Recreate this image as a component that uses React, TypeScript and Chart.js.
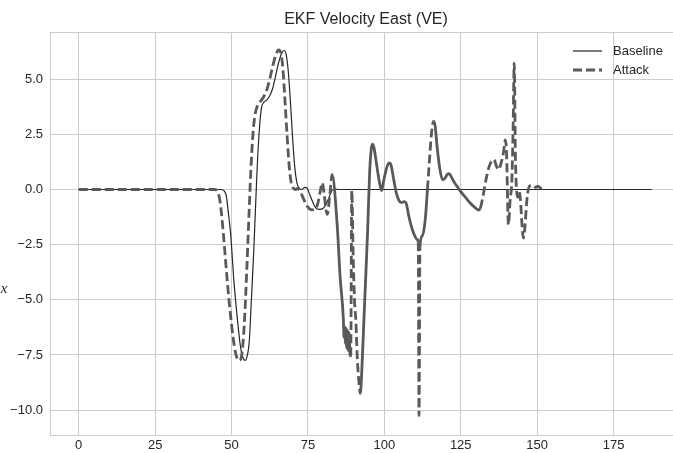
import React, { useEffect, useRef } from "react";
import { Chart, registerables } from "chart.js";

Chart.register(...registerables);

const chartTitle = "EKF Velocity East (VE)";
const yAxisTitle = "x";
const seriesNames = ["Baseline", "Attack"];
const xTickStep = 25;
const yTickStep = 2.5;

const baselineX = [
  0, 10, 20, 30, 40, 46.5, 47.5, 48.3, 49, 49.7, 50.8, 51.8, 52.9, 53.8, 54.5, 55.2, 55.8, 56.5, 57.3, 58,
  58.5, 59.2, 59.8, 60.5, 61.5, 62.5, 63.5, 64.5, 65.5, 66.5, 67.2, 67.9, 68.6, 69.3, 70, 70.7, 71.4, 72.2,
  73, 74, 74.8, 75.5, 76.5, 77.5, 78.5, 79.8, 80.8, 81.8, 82.8, 84, 85, 100, 125, 150, 175, 187.5,
];
const baselineY = [
  0, 0, 0, 0, 0, 0, -0.05, -0.3, -1.1, -2.0, -4.2, -5.7, -7.1, -7.65, -7.75, -7.5, -6.9, -5.0, -2.7, -0.3,
  1.3, 2.9, 3.7, 3.95, 4.05, 4.25, 4.6, 5.2, 5.8, 6.2, 6.3, 6.1, 5.3, 3.9, 2.3, 1.0, 0.3, 0.05,
  0.0, 0.1, 0.05, -0.2, -0.55, -0.82, -0.9, -0.88, -0.7, -0.4, -0.05, 0.02, 0, 0, 0, 0, 0, 0,
];

const attackX = [
  0, 10, 20, 30, 40, 44.5, 45.5, 46.3, 47, 47.8, 48.7, 49.6, 50.5, 51.4, 52.3, 53, 53.6, 54.3, 55, 55.7,
  56.3, 57, 57.7, 58.5, 59.5, 60.5, 61.5, 62.5, 63.5, 64.5, 65.4, 66.1, 66.8, 67.5, 68.2, 68.9, 69.6, 70.3,
  71, 71.5, 72.5, 73.5, 74.5, 75.5, 76.5, 77.5, 78.3, 79, 79.7, 80.3, 81.3, 82.2, 82.9, 84.6, 85.5, 86.6,
  86.8, 87, 87.25, 87.5, 87.75, 88, 88.25, 88.5, 88.75, 89, 89.35, 89.8, 90.3, 90.7, 91.1, 91.6, 92.15,
  92.6, 93.5, 94.5, 95.2, 95.7, 96.1, 96.6, 97.4, 98.3, 99.1, 99.8, 100.6, 101.5, 102.2, 103, 104, 104.8,
  105.6, 106.5, 107.2, 108, 108.9, 109.8, 110.6, 111.1, 111.35, 111.65, 112.4, 113.4, 114.1, 114.8, 115.4,
  116.1, 116.6, 117.3, 118.2, 119, 119.8, 120.6, 121.2, 122, 123, 124, 125, 126.5, 128, 129.5, 130.8, 131.4,
  132.3, 133.2, 134.2, 135.2, 135.9, 136.7, 137.4, 138.2, 139, 139.6, 140, 140.6, 141.2, 141.7, 142.1, 142.5,
  142.9, 143.3, 143.7, 144.1, 144.5, 145, 145.5, 146, 146.7, 147.5, 148.5, 149.5, 150.3, 151.2, 152,
];
const attackY = [
  0, 0, 0, 0, 0, 0, -0.1, -0.6, -1.5, -2.8, -4.3, -5.6, -6.7, -7.45, -7.75, -7.7, -7.2, -5.8, -3.6, -1.2,
  0.8, 2.5, 3.4, 3.8, 4.0, 4.2, 4.5, 5.0, 5.6, 6.1, 6.33, 6.2, 5.5, 4.0, 2.4, 1.0, 0.25, 0.05,
  0.0, 0.05, -0.1, -0.4, -0.7, -0.88, -0.92, -0.9, -0.6, -0.1, 0.3, -0.2, -1.13, -0.2, 0.68, -1.66, -3.9, -5.9,
  -6.7, -6.2, -7.0, -6.3, -7.2, -6.4, -7.3, -6.5, -7.45, -7.55, -0.05, -3.0, -5.2, -6.0, -7.5, -8.6, -9.25,
  -8.3, -5.3, -2.0, 0.8, 1.8, 2.05, 1.9, 1.2, 0.4, -0.05, 0.4, 0.9, 1.2, 1.1, 0.5, -0.2, -0.5,
  -0.6, -0.55, -0.65, -1.2, -1.7, -2.05, -2.25, -2.4, -10.25, -2.6, -2.1, -1.35, 0.0, 1.4, 2.5,
  3.1, 2.9, 1.9, 0.9, 0.45, 0.5, 0.68, 0.72, 0.55, 0.3, 0.1, -0.1, -0.35, -0.6, -0.8, -0.93, -0.85,
  -0.3, 0.4, 1.0, 1.3, 1.35, 1.05, 0.9, 1.2, 1.7, 2.25, 1.6, -1.6, -0.4, 0.3, 2.5, 5.73,
  1.5, -0.1, -0.35, -0.1, -0.4, -1.5, -2.2, -1.7, -0.4, 0.15, 0.2, 0.1, 0.15, 0.05, 0.0,
];

// x-ranges where the dense Attack trace reads as a solid stroke
const attackSolidRanges = [
  [82.9, 89.0],
  [92.15, 111.1],
  [111.65, 114.1],
  [116.1, 131.4],
];

const FONT = "'Liberation Sans', Arial, sans-serif";
const GRID = "#cccccc";
const TEXT = "#262626";
const BASE_COLOR = "#262626";
const ATTACK_COLOR = "#595959";

const framePlugin = {
  id: "frame",
  beforeDatasetsDraw(chart: any) {
    const { ctx, chartArea } = chart;
    ctx.save();
    ctx.strokeStyle = GRID;
    ctx.lineWidth = 1;
    ctx.strokeRect(
      Math.round(chartArea.left) + 0.5,
      Math.round(chartArea.top) + 0.5,
      Math.round(chartArea.right - chartArea.left),
      Math.round(chartArea.bottom - chartArea.top)
    );
    ctx.restore();
  },
};

const legendPlugin = {
  id: "customLegend",
  afterDraw(chart: any) {
    const { ctx } = chart;
    const ds = chart.data.datasets;
    const x0 = 581;
    const x1 = 610;
    const tx = 621;
    const rows = [51, 70];
    ctx.save();
    ds.forEach((d: any, i: number) => {
      const y = rows[i];
      ctx.beginPath();
      ctx.strokeStyle = d.borderColor;
      ctx.lineWidth = d.borderWidth;
      ctx.setLineDash(d.borderDash || []);
      ctx.moveTo(x0, y);
      ctx.lineTo(x1, y);
      ctx.stroke();
      ctx.setLineDash([]);
      ctx.fillStyle = TEXT;
      ctx.font = `13px ${FONT}`;
      ctx.textBaseline = "middle";
      ctx.textAlign = "left";
      ctx.fillText(d.label, tx, y);
    });
    // y-axis label
    ctx.fillStyle = TEXT;
    ctx.font = `italic 15px 'Liberation Serif', 'DejaVu Serif', serif`;
    ctx.textAlign = "center";
    ctx.textBaseline = "middle";
    ctx.fillText(yAxisTitle, 12, 289);
    ctx.restore();
  },
};

export default function App() {
  const ref = useRef<HTMLCanvasElement | null>(null);

  useEffect(() => {
    if (!ref.current) return;
    const inSolid = (a: number, b: number) =>
      attackSolidRanges.some(([s, e]) => a >= s - 1e-6 && b <= e + 1e-6);
    const chart = new Chart(ref.current, {
      type: "line",
      data: {
        datasets: [
          {
            label: seriesNames[0],
            data: baselineX.map((x, i) => ({ x, y: baselineY[i] })),
            borderColor: BASE_COLOR,
            borderWidth: 1.2,
            pointRadius: 0,
            fill: false,
            cubicInterpolationMode: "monotone",
            order: 1,
          },
          {
            label: seriesNames[1],
            data: attackX.map((x, i) => ({ x, y: attackY[i] })),
            borderColor: ATTACK_COLOR,
            borderWidth: 2.8,
            borderDash: [9, 4],
            pointRadius: 0,
            fill: false,
            cubicInterpolationMode: "monotone",
            order: 0,
            segment: {
              borderDash: (c: any) =>
                inSolid(c.p0.parsed.x, c.p1.parsed.x) ? [] : undefined,
            },
          },
        ],
      },
      options: {
        animation: false,
        responsive: false,
        devicePixelRatio: 1,
        layout: { padding: { left: 0, right: 10, top: 0, bottom: 0 } },
        plugins: {
          legend: { display: false },
          tooltip: { enabled: false },
          title: {
            display: true,
            text: chartTitle,
            fullSize: false,
            color: TEXT,
            font: { family: FONT, size: 16, weight: "normal" },
            padding: { top: 10, bottom: 3 },
          },
        },
        scales: {
          x: {
            type: "linear",
            min: -9.4,
            max: 197.4,
            afterFit(scale: any) {
              scale.height = 18;
            },
            border: { display: false },
            grid: { color: GRID, lineWidth: 1, drawTicks: false },
            ticks: {
              stepSize: xTickStep,
              includeBounds: false,
              padding: 3,
              color: TEXT,
              font: { family: FONT, size: 13 },
              maxRotation: 0,
              callback: (v: any) => String(v),
            },
          },
          y: {
            type: "linear",
            min: -11.13,
            max: 7.13,
            afterFit(scale: any) {
              scale.width = 58;
            },
            border: { display: false },
            grid: { color: GRID, lineWidth: 1, drawTicks: false },
            ticks: {
              stepSize: yTickStep,
              includeBounds: false,
              padding: 7,
              color: TEXT,
              font: { family: FONT, size: 13 },
              callback: (v: any) => {
                const s = Number(v).toFixed(1);
                return s.replace("-", "\u2212");
              },
            },
          },
        },
      },
      plugins: [framePlugin, legendPlugin],
    });
    return () => chart.destroy();
  }, []);

  return (
    <div
      style={{
        position: "fixed",
        left: 0,
        top: 0,
        width: 673,
        height: 453,
        overflow: "hidden",
        background: "#ffffff",
      }}
    >
      <canvas
        ref={ref}
        width={700}
        height={453}
        style={{ position: "absolute", left: -8, top: 0, display: "block" }}
      />
    </div>
  );
}
